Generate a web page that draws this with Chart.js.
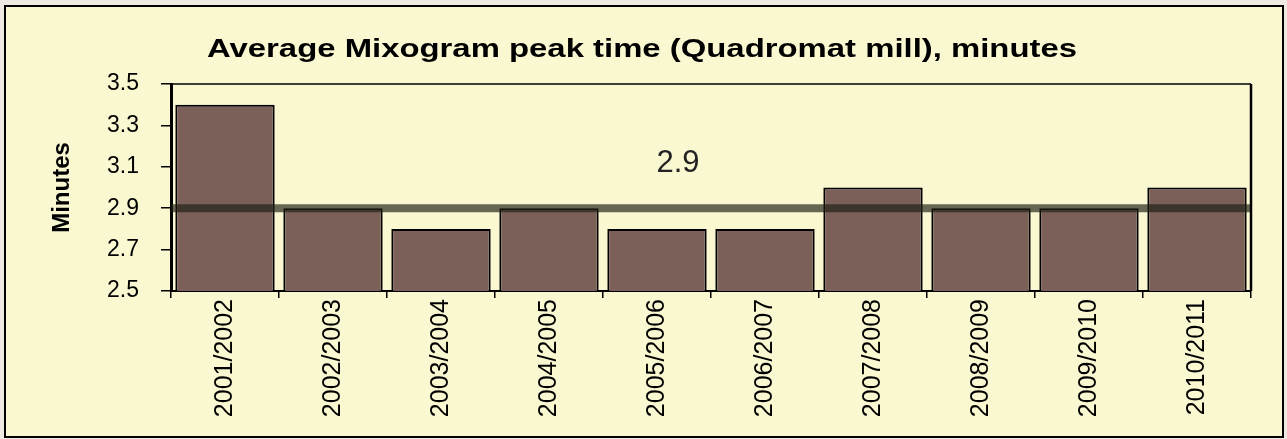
<!DOCTYPE html>
<html>
<head>
<meta charset="utf-8">
<script src="https://cdn.jsdelivr.net/npm/chart.js@4/dist/chart.umd.min.js"></script>
<style>
  html, body { margin: 0; padding: 0; background: #efe9e4; }
  #wrap { width: 1287px; height: 439px; }
</style>
</head>
<body>
<div id="wrap"><canvas id="mixogram"></canvas></div>
<script>
// crop years and average peak times (minutes)
var seasons = ["2001/2002", "2002/2003", "2003/2004", "2004/2005", "2005/2006",
               "2006/2007", "2007/2008", "2008/2009", "2009/2010", "2010/2011"];
var peakTime = [3.4, 2.9, 2.8, 2.9, 2.8, 2.8, 3.0, 2.9, 2.9, 3.0];
var averageTime = 2.9;
var yTicks = [2.5, 2.7, 2.9, 3.1, 3.3, 3.5];
var chartTitle = "Average Mixogram peak time (Quadromat mill), minutes";

var FONT = "'Liberation Sans', Arial, sans-serif";

// cream panel, black frame, title, average line
var framePlugin = {
  id: "frame",
  beforeDraw: function (chart) {
    var c = chart.ctx;
    c.save();
    c.fillStyle = "#efe9e4";
    c.fillRect(0, 0, chart.width, chart.height);
    c.fillStyle = "#faf8d0";
    c.fillRect(5, 6, 1278, 431);
    c.strokeStyle = "#000";
    c.lineWidth = 2;
    c.strokeRect(5, 6, 1278, 431);

    // title, a bit stretched like the original
    c.fillStyle = "#000";
    c.font = "bold 25px " + FONT;
    c.textAlign = "center";
    c.textBaseline = "alphabetic";
    var w = c.measureText(chartTitle).width;
    c.translate(642, 57);
    c.scale(870 / w, 1);
    c.fillText(chartTitle, 0, 0);
    c.restore();
  },
  afterDatasetsDraw: function (chart) {
    var c = chart.ctx, a = chart.chartArea;
    var y = chart.scales.y.getPixelForValue(averageTime);
    c.save();
    c.strokeStyle = "rgba(30, 30, 20, 0.67)";
    c.lineWidth = 8;
    c.beginPath();
    c.moveTo(a.left, y);
    c.lineTo(a.right, y);
    c.stroke();
    c.fillStyle = "#222";
    c.font = "31px " + FONT;
    c.textAlign = "center";
    c.textBaseline = "middle";
    c.fillText(averageTime.toFixed(1), 678, y - 45);
    // plot frame top and right
    c.strokeStyle = "#000";
    c.lineWidth = 1.5;
    c.beginPath();
    c.moveTo(a.left, a.top);
    c.lineTo(a.right, a.top);
    c.stroke();
    c.lineWidth = 2.5;
    c.beginPath();
    c.moveTo(a.right, a.top);
    c.lineTo(a.right, a.bottom);
    c.stroke();
    c.restore();
  }
};

var ctx = document.getElementById("mixogram");
new Chart(ctx, {
  type: "bar",
  data: {
    labels: seasons,
    datasets: [
      {
        data: peakTime,
        backgroundColor: "#7a6058",
        borderColor: "#000",
        borderWidth: 2,
        borderSkipped: false,
        barPercentage: 0.92,
        categoryPercentage: 1.0,
      },
    ],
  },
  options: {
    responsive: true,
    maintainAspectRatio: false,
    animation: false,
    layout: {
      padding: { left: 40, right: 36, top: 84, bottom: 0 },
    },
    plugins: {
      legend: { display: false },
      tooltip: { enabled: false },
      title: { display: false },
    },
    scales: {
      x: {
        afterFit: function (axis) { axis.height = 148; },
        grid: {
          offset: true,
          drawOnChartArea: false,
          drawTicks: true,
          tickLength: 7,
          color: "#000",
          lineWidth: 1.5,
        },
        border: { display: true, color: "#000", width: 2 },
        ticks: {
          color: "#000",
          maxRotation: 90,
          minRotation: 90,
          padding: 1,
          font: { family: FONT, size: 25 },
        },
      },
      y: {
        min: 2.5,
        max: 3.5,
        afterBuildTicks: function (axis) {
          axis.ticks = yTicks.map(function (v) { return { value: v }; });
        },
        afterFit: function (axis) { axis.width = 131; },
        grid: {
          drawOnChartArea: false,
          drawTicks: true,
          tickLength: 10,
          color: "#000",
          lineWidth: 1.5,
        },
        border: { display: true, color: "#000", width: 3 },
        ticks: {
          color: "#000",
          padding: 22,
          callback: function (v) { return v.toFixed(1); },
          font: { family: FONT, size: 23 },
        },
        title: {
          display: true,
          text: "Minutes",
          color: "#000",
          font: { family: FONT, size: 24, weight: "bold" },
          padding: { top: 8, bottom: 0 },
        },
      },
    },
  },
  plugins: [framePlugin],
});
</script>
</body>
</html>
